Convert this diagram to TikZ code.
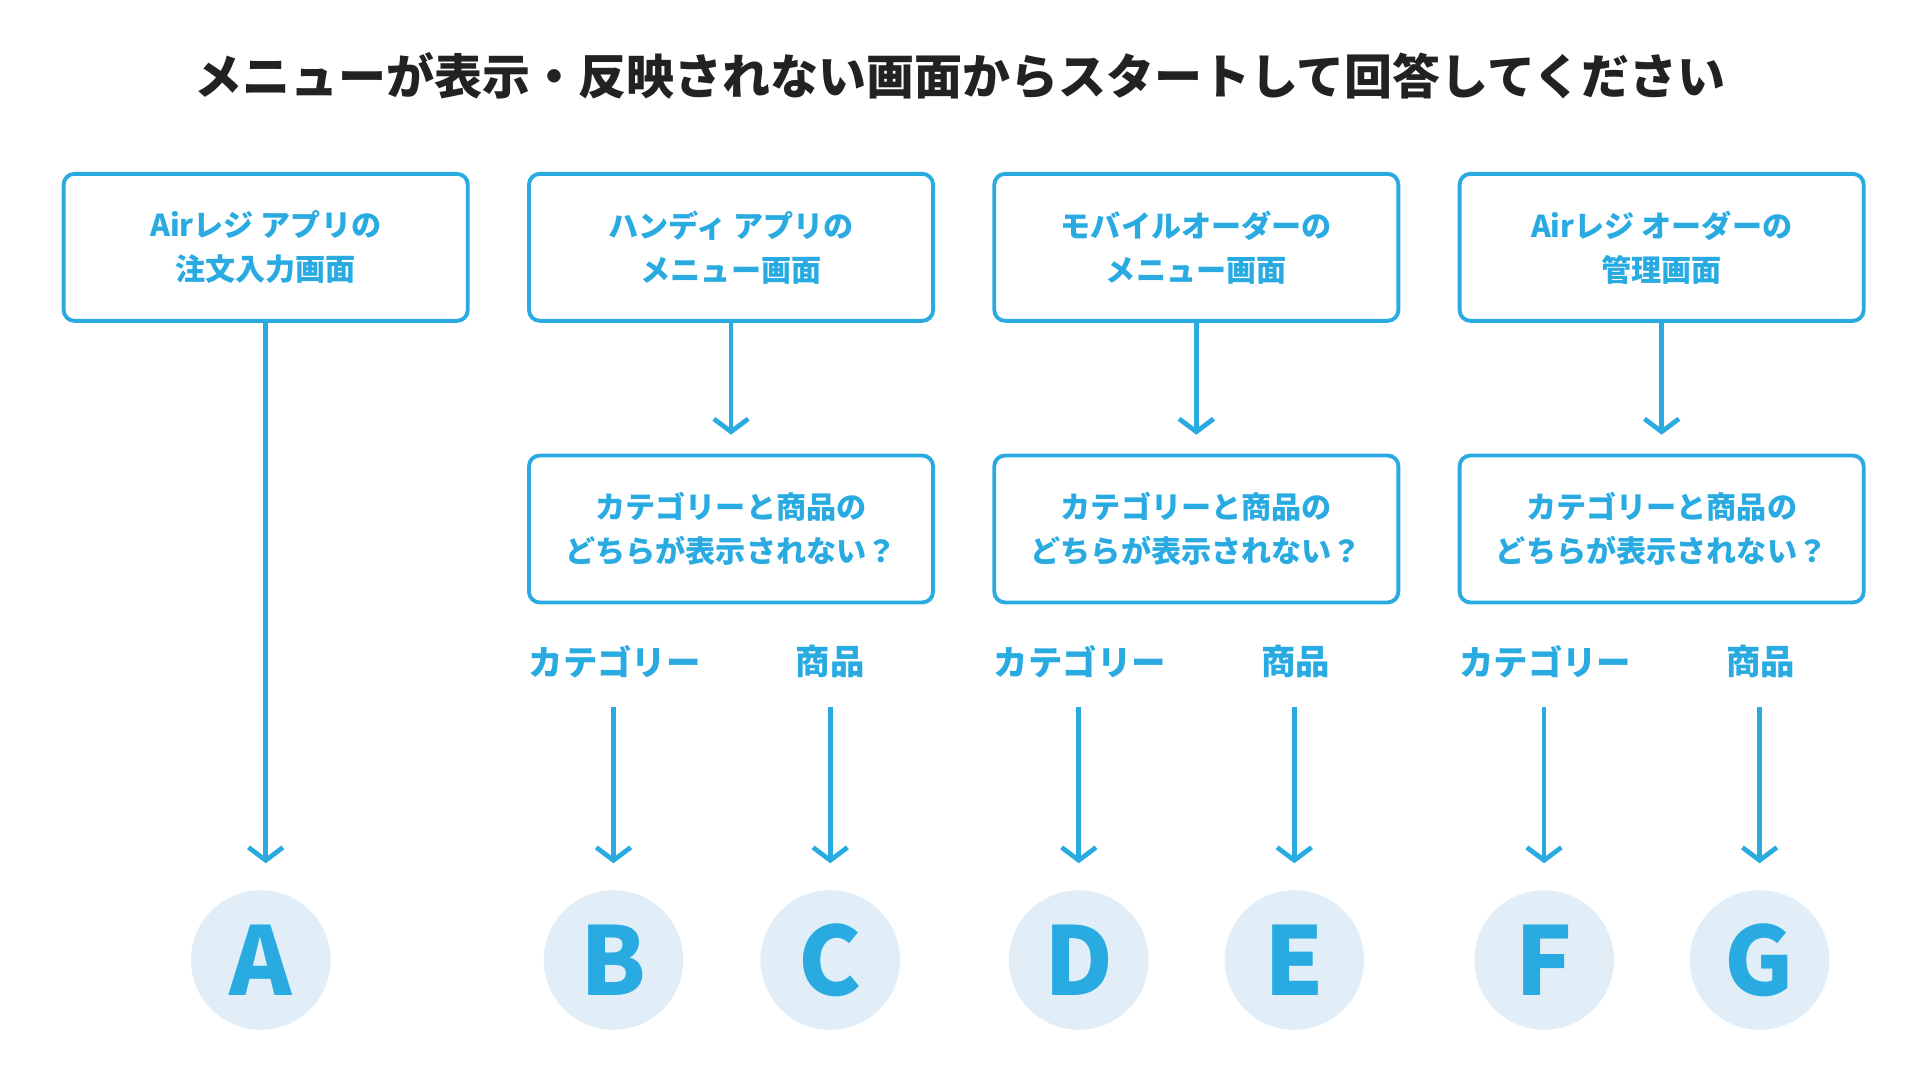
\documentclass[tikz,border=0pt]{standalone}
\usepackage{fontspec}
\setmainfont{Noto Sans CJK JP}
\usetikzlibrary{arrows.meta}
\definecolor{blu}{HTML}{29ABE2}
\definecolor{cfill}{HTML}{E1EEF8}
\definecolor{dark}{HTML}{222222}
\begin{document}
\begin{tikzpicture}[x=0.02cm,y=-0.02cm,
  box/.style={draw=blu,line width=1.8pt,rounded corners=5pt,minimum width=330*0.02cm,minimum height=120*0.02cm,align=center,text=blu,font=\fontsize{14}{20.5}\selectfont\bfseries},
  arr/.style={draw=blu,line width=2.2pt,-{Straight Barb[length=6pt,width=16pt,line width=2.2pt]}},
  lab/.style={text=blu,font=\fontsize{16}{18}\selectfont\bfseries},
  circ/.style={circle,fill=cfill,minimum size=114*0.02cm,inner sep=0pt,text=blu,font=\fontsize{44}{44}\selectfont\bfseries}]
\useasboundingbox (0,0) rectangle (1568,879);
\node[text=dark,font=\fontsize{22.3}{26}\selectfont\bfseries] (title) at (784,62) {メニューが表示・反映されない画面からスタートして回答してください};
\node[box] (t1) at (217,202) {Airレジ アプリの\\注文入力画面};
\node[box] (t2) at (597,202) {ハンディ アプリの\\メニュー画面};
\node[box] (t3) at (977,202) {モバイルオーダーの\\メニュー画面};
\node[box] (t4) at (1357,202) {Airレジ オーダーの\\管理画面};
\foreach \i/\x in {2/597,3/977,4/1357}{
  \node[box] (m\i) at (\x,432) {カテゴリーと商品の\\どちらが表示されない？};
  \coordinate (e\i) at (\x,355);
  \draw[arr] (t\i) -- (e\i);
}
\node[circ] (A) at (213,784) {A};
\coordinate (ea) at (217,705);
\draw[arr] (t1.south) -- (ea);
\foreach \n/\x/\c/\p in {B/501/2/c,C/678/2/p,D/881/3/c,E/1057/3/p,F/1261/4/c,G/1437/4/p}{
  \node[circ] (\n) at (\x,784) {\n};
  \coordinate (s\n) at (\x,577);
  \coordinate (e\n) at (\x,705);
  \draw[arr] (s\n) -- (e\n);
}
\foreach \n/\x in {B/502,D/882,F/1262}{\node[lab] (l\n) at (\x,540) {カテゴリー};}
\foreach \n/\x in {C/678,E/1058,G/1438}{\node[lab] (l\n) at (\x,540) {商品};}
\end{tikzpicture}
\end{document}
